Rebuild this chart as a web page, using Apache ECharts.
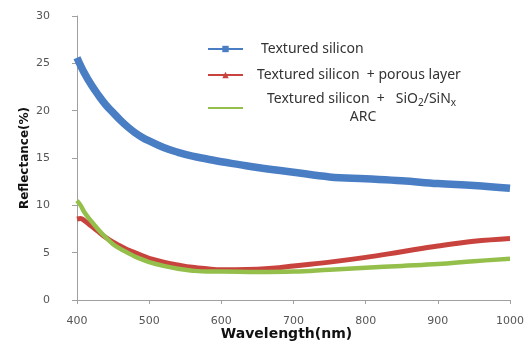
<!DOCTYPE html>
<html>
<head>
<meta charset="utf-8">
<script src="https://cdn.jsdelivr.net/npm/echarts@6/dist/echarts.min.js"></script>
<style>
html,body{margin:0;padding:0;background:#fff;}
#chart{width:528px;height:343px;}
</style>
</head>
<body>
<div id="chart"></div>
<script>
var seriesNames = ['Textured silicon', 'Textured silicon  + porous layer', 'Textured silicon  +  SiO2/SiNx ARC'];
var xTicks = [400, 500, 600, 700, 800, 900, 1000];
var yTicks = [0, 5, 10, 15, 20, 25, 30];

var blueWl = [400, 410, 420, 430, 440, 450, 460, 470, 480, 490, 500, 520, 540, 560, 580, 600, 625, 650, 700, 750, 800, 850, 900, 950, 1000];
var blueR  = [25.6, 24.0, 22.7, 21.6, 20.6, 19.8, 19.0, 18.3, 17.7, 17.2, 16.8, 16.1, 15.6, 15.2, 14.9, 14.6, 14.3, 14.0, 13.5, 13.0, 12.8, 12.6, 12.3, 12.1, 11.8];

var redWl = [400, 405, 410, 420, 430, 440, 450, 460, 470, 480, 490, 500, 520, 540, 560, 580, 600, 620, 650, 680, 700, 750, 800, 850, 900, 950, 1000];
var redR  = [8.55, 8.6, 8.4, 7.8, 7.2, 6.6, 6.1, 5.7, 5.3, 5.0, 4.7, 4.4, 4.0, 3.7, 3.45, 3.3, 3.2, 3.2, 3.25, 3.4, 3.6, 4.0, 4.5, 5.1, 5.7, 6.2, 6.5];

var greenWl = [400, 405, 410, 420, 430, 440, 450, 460, 470, 480, 490, 500, 520, 540, 560, 580, 600, 650, 700, 750, 800, 850, 900, 950, 1000];
var greenR  = [10.5, 10.0, 9.3, 8.3, 7.4, 6.6, 5.9, 5.4, 5.0, 4.6, 4.3, 4.0, 3.6, 3.3, 3.1, 3.0, 3.0, 2.95, 3.0, 3.2, 3.4, 3.6, 3.8, 4.1, 4.35];

function pairs(xs, ys){ return xs.map(function(x,i){ return [x, ys[i]]; }); }

var FONT = 'Noto Sans';
var AXFONT = 'DejaVu Sans';
var legendText = { fontFamily: FONT, fontSize: 14, color: '#333',
  rich: {
    a: { fontFamily: FONT, fontSize: 14, color: '#333', lineHeight: 18 },
    s: { fontFamily: FONT, fontSize: 10, color: '#333', verticalAlign: 'bottom', padding: [7,0,0,0], lineHeight: 18 },
    c: { fontFamily: FONT, fontSize: 14, color: '#333', width: 192, align: 'center', lineHeight: 18 }
  }
};

var chart = echarts.init(document.getElementById('chart'), null, {renderer: 'canvas'});
chart.setOption({
  animation: false,
  backgroundColor: '#fff',
  grid: { left: 77, right: 18, top: 16, bottom: 43, outerBoundsMode: 'none', containLabel: false },
  xAxis: {
    type: 'value', min: 400, max: 1000, interval: 100,
    name: 'Wavelength(nm)', nameLocation: 'middle', nameGap: 27, nameMoveOverlap: false,
    nameTextStyle: { fontFamily: AXFONT, fontWeight: 'bold', fontSize: 14, color: '#111', padding: [0, 14, 0, 0] },
    axisLine: { lineStyle: { color: '#a0a0a0', width: 1 } },
    axisTick: { show: true, length: 4, lineStyle: { color: '#a0a0a0' } },
    axisLabel: { fontFamily: AXFONT, fontSize: 11, color: '#555', margin: 16,
      formatter: function(v){ return xTicks.indexOf(v) >= 0 ? String(v) : ''; } },
    splitLine: { show: false }
  },
  yAxis: {
    type: 'value', min: 0, max: 30, interval: 5,
    name: 'Reflectance(%)', nameLocation: 'middle', nameGap: 46, nameMoveOverlap: false,
    nameTextStyle: { fontFamily: AXFONT, fontWeight: 'bold', fontSize: 12, color: '#111' },
    axisLine: { show: true, lineStyle: { color: '#a0a0a0', width: 1 } },
    axisTick: { show: true, length: 5, lineStyle: { color: '#a0a0a0' } },
    axisLabel: { fontFamily: AXFONT, fontSize: 11, color: '#555', margin: 27,
      formatter: function(v){ return yTicks.indexOf(v) >= 0 ? String(v) : ''; } },
    splitLine: { show: false }
  },
  legend: [
    { data: [seriesNames[0]], left: 202, top: 37, itemWidth: 35, itemHeight: 8,
      textStyle: Object.assign({}, legendText, { padding: [0,0,0,13] }) },
    { data: [seriesNames[1]], left: 202, top: 63, itemWidth: 35, itemHeight: 8,
      textStyle: Object.assign({}, legendText, { padding: [0,0,0,9] }) },
    { data: [seriesNames[2]], left: 202, top: 86, itemWidth: 35, itemHeight: 8,
      formatter: function(){ return '{a|Textured silicon  +   SiO}{s|2}{a|/SiN}{s|x}\n{c|ARC}'; },
      textStyle: Object.assign({}, legendText, { padding: [0,0,0,19] }) }
  ],
  series: [
    { name: seriesNames[0], type: 'line', data: pairs(blueWl, blueR), smooth: 0.4,
      symbol: 'rect', symbolSize: 5, showSymbol: false, color: '#4a7ec4',
      lineStyle: { width: 7.5, color: '#4a7ec4' } },
    { name: seriesNames[1], type: 'line', data: pairs(redWl, redR), smooth: 0.4,
      symbol: 'triangle', symbolSize: 6, showSymbol: false, color: '#c8433e',
      lineStyle: { width: 5, color: '#c8433e' } },
    { name: seriesNames[2], type: 'line', data: pairs(greenWl, greenR), smooth: 0.4,
      symbol: 'path://M0,0L10,10M10,0L0,10', symbolSize: 5, showSymbol: false, color: '#95bf4b',
      lineStyle: { width: 4.5, color: '#95bf4b' } }
  ]
});
</script>
</body>
</html>
